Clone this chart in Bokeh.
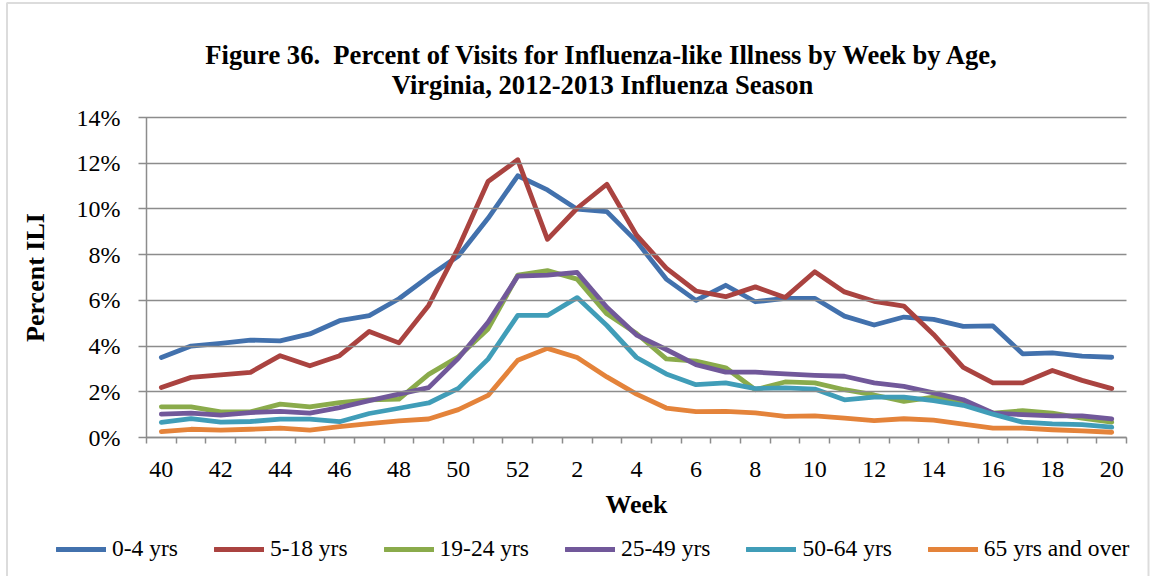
from bokeh.plotting import figure
from bokeh.models import (Range1d, FixedTicker, Label, Legend, LegendItem, BoxAnnotation,
                          PrintfTickFormatter, CustomJSTickFormatter, ColumnDataSource)
from bokeh.embed import file_html
from bokeh.resources import INLINE

# ---------------- data ----------------
weeks = [str(w) for w in list(range(40, 53)) + list(range(1, 21))]

age_0_4 = [3.50, 4.00, 4.12, 4.26, 4.23, 4.53, 5.11, 5.33, 6.07, 7.04, 7.94, 9.59, 11.45,
           10.83, 9.99, 9.88, 8.58, 6.93, 6.00, 6.66, 5.94, 6.09, 6.09, 5.31, 4.92, 5.27,
           5.17, 4.86, 4.88, 3.66, 3.70, 3.56, 3.51]
age_5_18 = [2.19, 2.63, 2.74, 2.85, 3.58, 3.14, 3.58, 4.64, 4.14, 5.78, 8.30, 11.20, 12.15,
            8.67, 10.03, 11.08, 8.85, 7.41, 6.41, 6.16, 6.59, 6.12, 7.25, 6.37, 5.96, 5.75,
            4.51, 3.07, 2.39, 2.39, 2.93, 2.50, 2.14]
age_19_24 = [1.34, 1.34, 1.12, 1.12, 1.46, 1.34, 1.53, 1.65, 1.68, 2.76, 3.53, 4.75, 7.10,
             7.30, 6.93, 5.41, 4.55, 3.44, 3.34, 3.05, 2.09, 2.43, 2.39, 2.09, 1.86, 1.58,
             1.77, 1.51, 1.07, 1.17, 1.07, 0.85, 0.67]
age_25_49 = [1.02, 1.07, 0.98, 1.09, 1.14, 1.07, 1.31, 1.61, 1.90, 2.18, 3.47, 5.04, 7.06,
             7.10, 7.22, 5.70, 4.48, 3.85, 3.19, 2.86, 2.86, 2.78, 2.72, 2.68, 2.39, 2.24,
             1.95, 1.65, 1.07, 1.00, 0.95, 0.95, 0.81]
age_50_64 = [0.66, 0.83, 0.67, 0.70, 0.80, 0.80, 0.69, 1.05, 1.28, 1.51, 2.15, 3.43, 5.34,
             5.34, 6.12, 4.90, 3.50, 2.78, 2.31, 2.39, 2.14, 2.17, 2.12, 1.65, 1.77, 1.77,
             1.61, 1.41, 1.02, 0.67, 0.60, 0.56, 0.45]
age_65_plus = [0.26, 0.36, 0.32, 0.36, 0.41, 0.32, 0.48, 0.61, 0.73, 0.81, 1.22, 1.84, 3.38,
               3.90, 3.50, 2.65, 1.90, 1.29, 1.13, 1.14, 1.08, 0.92, 0.95, 0.85, 0.74, 0.82,
               0.76, 0.59, 0.41, 0.41, 0.34, 0.29, 0.23]

series_names = ["0-4 yrs", "5-18 yrs", "19-24 yrs", "25-49 yrs", "50-64 yrs", "65 yrs and over"]
series_values = [age_0_4, age_5_18, age_19_24, age_25_49, age_50_64, age_65_plus]
series_colors = ["#4271AD", "#AA4340", "#8AAB4B", "#71589A", "#409DB8", "#E4833A"]

y_ticks = [0, 2, 4, 6, 8, 10, 12, 14]

title_lines = ["Figure 36.\u00a0 Percent of Visits for Influenza-like Illness by Week by Age,",
               "Virginia, 2012-2013 Influenza Season"]

# ---------------- geometry (pixels) ----------------
W, H = 1150, 576
PLOT_L, CAT_W = 146.0, 29.7          # plot area left edge, width of one week
Y0_PX, PX_PER_PCT = 437.0, 22.857    # pixel row of 0 %, pixels per 1 %
n = len(weeks)
PLOT_W = CAT_W * n


def dx(px):  # pixel column -> data x
    return (px - PLOT_L) / CAT_W - 0.5


def dy(py):  # pixel row -> data y
    return (Y0_PX - py) / PX_PER_PCT


FONT = "Liberation Serif"
GRAY = "#8c8c8c"

p = figure(width=W, height=H, output_backend="svg", toolbar_location=None,
           x_range=Range1d(dx(0), dx(W)), y_range=Range1d(dy(H), dy(0)),
           min_border_left=0, min_border_right=0, min_border_top=0, min_border_bottom=0)
p.title = None
p.outline_line_color = None
p.background_fill_color = "white"
p.border_fill_color = "white"

p.xgrid.visible = False
p.ygrid.visible = False

# y axis (at the left edge of the plot area); its inner ticks form the gridlines
ya = p.yaxis[0]
ya.fixed_location = -0.5
ya.bounds = (0, 14)
ya.ticker = FixedTicker(ticks=y_ticks)
ya.formatter = PrintfTickFormatter(format="%d%%")
ya.axis_line_color = GRAY
ya.axis_line_width = 1.5
ya.major_tick_line_color = GRAY
ya.major_tick_line_width = 1.5
ya.major_tick_out = 8
ya.major_tick_in = int(round(PLOT_W))
ya.minor_tick_line_color = None
ya.major_label_standoff = 18
ya.major_label_text_font = FONT
ya.major_label_text_font_size = "24px"
ya.major_label_text_color = "black"
ya.axis_label = "Percent ILI"
ya.axis_label_text_font = FONT
ya.axis_label_text_font_style = "bold"
ya.axis_label_text_font_size = "26px"
ya.axis_label_text_color = "black"
ya.axis_label_standoff = 24

# x axis (on the 0 % line)
xa = p.xaxis[0]
xa.fixed_location = 0
xa.bounds = (-0.5, n - 0.5)
xa.ticker = FixedTicker(ticks=list(range(0, n, 2)),
                        minor_ticks=[i - 0.5 for i in range(n + 1)])
xa.formatter = CustomJSTickFormatter(args=dict(labels=weeks),
                                     code="return labels[Math.round(tick)];")
xa.axis_line_color = GRAY
xa.axis_line_width = 1.5
xa.major_tick_line_color = None
xa.major_tick_out = 6
xa.major_tick_in = 0
xa.minor_tick_line_color = GRAY
xa.minor_tick_line_width = 1.5
xa.minor_tick_out = 6
xa.minor_tick_in = 0
xa.major_label_standoff = 18
xa.major_label_text_font = FONT
xa.major_label_text_font_size = "24px"
xa.major_label_text_color = "black"
xa.axis_label = "Week"
xa.axis_label_text_font = FONT
xa.axis_label_text_font_style = "bold"
xa.axis_label_text_font_size = "26px"
xa.axis_label_text_color = "black"
xa.axis_label_standoff = 10

# lines
idx = list(range(n))
items = []
for name, vals, col in zip(series_names, series_values, series_colors):
    src = ColumnDataSource(dict(x=idx, y=vals, week=weeks))
    r = p.line("x", "y", source=src, line_color=col, line_width=4.8,
               line_join="round", line_cap="round")
    items.append(LegendItem(label=name, renderers=[r]))

legend = Legend(items=items, orientation="horizontal", location=(56, 14),
                glyph_width=50, glyph_height=24, label_standoff=6, spacing=36,
                padding=0, margin=0, border_line_color=None,
                background_fill_alpha=0,
                label_text_font=FONT, label_text_font_size="23.5px",
                label_text_color="black")
p.add_layout(legend)

# title (two centred lines)
for txt, base_px in zip(title_lines, [54.3, 84.3]):
    p.add_layout(Label(x=dx(602), y=dy(base_px), text=txt, text_align="center",
                       text_baseline="alphabetic", text_font=FONT, text_font_style="bold",
                       text_font_size="26.6px", text_color="black"))

# outer chart border
p.add_layout(BoxAnnotation(left=dx(6.5), right=dx(1148), top=dy(2.5), bottom=dy(H + 20),
                           fill_alpha=0, line_color=GRAY, line_width=2))

open("out.html", "w").write(file_html(p, INLINE))
